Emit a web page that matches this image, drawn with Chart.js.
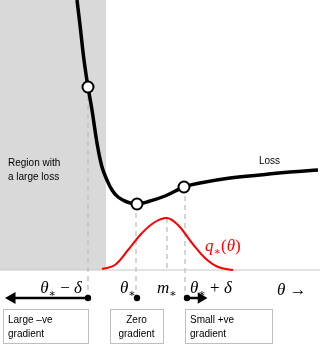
<!DOCTYPE html>
<html>
<head>
<meta charset="UTF-8">
<script src="https://cdn.jsdelivr.net/npm/chart.js@4.4.1/dist/chart.umd.min.js"></script>
<style>
  * { margin: 0; padding: 0; }
  html, body { width: 320px; height: 346px; overflow: hidden; background: #fff; }
  canvas { display: block; }
</style>
</head>
<body>
<canvas id="chart" width="320" height="346"></canvas>
<script>
// theta axis and value axis are in the picture's own units (baseline at value 0)
const lossTheta = [77, 80, 84, 88, 92, 97, 102, 107, 112, 118, 127, 137, 150, 165, 184, 200, 230, 260, 290, 318];
const lossValue = [270, 245, 210, 183, 160, 127, 103, 90, 80, 73, 68, 66, 69, 74, 83, 87, 92, 95, 98, 100];

const qTheta = [102, 115, 128, 142, 155, 167, 178, 192, 205, 218, 233];
const qValue = [1, 5, 20, 37, 48, 52, 45, 27, 12, 3, 0];

// the three marked points: theta* - delta, theta*, theta* + delta
const markTheta = [88, 137, 184];
const markValue = [183, 66, 83];
const mStar = 167;
const qPeak = 52;
const regionEnd = 106;
const thetaMin = 0, thetaMax = 320;
const bulletTheta = [88, 137, 187];
const bulletValue = -28;
const leftArrowEnd = 12;
const rightArrowEnd = 201;

const mathLabels = [
  { theta: 82, v: -18, align: 'right', parts: [['θ', 'i'], ['∗', 's'], [' − ', 'n'], ['δ', 'i']] },
  { theta: 120, v: -18, align: 'left', parts: [['θ', 'i'], ['∗', 's']] },
  { theta: 157, v: -18, align: 'left', parts: [['m', 'i'], ['∗', 's']] },
  { theta: 190, v: -18, align: 'left', parts: [['θ', 'i'], ['∗', 's'], [' + ', 'n'], ['δ', 'i']] },
  { theta: 277, v: -20, align: 'left', parts: [['θ', 'i'], [' →', 'n']] },
  { theta: 205, v: 24, align: 'left', color: '#ff0000', parts: [['q', 'i'], ['∗', 's'], ['(', 'n'], ['θ', 'i'], [')', 'n']] }
];
const boxes = [
  { from: 3, to: 88, lines: ['Large \u2013ve', 'gradient'], align: 'left' },
  { from: 110, to: 163, lines: ['Zero', 'gradient'], align: 'center' },
  { from: 185, to: 272, lines: ['Small +ve', 'gradient'], align: 'left' }
];
const boxTop = -39, boxBottom = -73;
const notes = [
  { theta: 8, v: 107, text: 'Region with' },
  { theta: 8, v: 93, text: 'a large loss' },
  { theta: 259, v: 109, text: 'Loss' }
];

const pts = (xs, ys) => xs.map((x, i) => ({ x, y: ys[i] }));
const vline = (x, y0, y1) => [{ x, y: y0 }, { x, y: y1 }];
const dash = { borderColor: '#bfbfbf', borderWidth: 1.3, borderDash: [5, 4], pointRadius: 0, fill: false };

const annotate = {
  id: 'annotate',
  afterDatasetsDraw(chart) {
    const { ctx, scales: { x, y } } = chart;
    ctx.save();
    ctx.textBaseline = 'alphabetic';
    // math labels
    mathLabels.forEach(lb => {
      const fontFor = k => k === 's' ? '11px "DejaVu Serif"' : (k === 'i' ? 'italic 17px "Liberation Serif"' : '17px "Liberation Serif"');
      let w = 0;
      lb.parts.forEach(p => { ctx.font = fontFor(p[1]); w += ctx.measureText(p[0]).width; });
      let px = x.getPixelForValue(lb.theta);
      if (lb.align === 'right') px -= w;
      const py = y.getPixelForValue(lb.v) + 5;
      ctx.fillStyle = lb.color || '#000';
      lb.parts.forEach(p => {
        ctx.font = fontFor(p[1]);
        ctx.fillText(p[0], px, p[1] === 's' ? py + 4 : py);
        px += ctx.measureText(p[0]).width;
      });
    });
    // plain notes
    ctx.font = '10px "Liberation Sans"';
    ctx.fillStyle = '#000';
    ctx.textBaseline = 'middle';
    notes.forEach(n => ctx.fillText(n.text, x.getPixelForValue(n.theta), y.getPixelForValue(n.v)));
    // boxes
    boxes.forEach(b => {
      const x0 = x.getPixelForValue(b.from), x1 = x.getPixelForValue(b.to);
      const y0 = y.getPixelForValue(boxTop), y1 = y.getPixelForValue(boxBottom);
      ctx.strokeStyle = '#bfbfbf';
      ctx.lineWidth = 1;
      ctx.strokeRect(Math.round(x0) + 0.5, Math.round(y0) + 0.5, x1 - x0, y1 - y0);
      ctx.textAlign = b.align;
      const tx = b.align === 'center' ? (x0 + x1) / 2 : x0 + 5;
      b.lines.forEach((t, i) => ctx.fillText(t, tx, y0 + 11 + i * 14));
    });
    ctx.restore();
  }
};

new Chart(document.getElementById('chart'), {
  type: 'scatter',
  data: {
    datasets: [
      // bullet points under the marks
      { data: bulletTheta.map(t => ({ x: t, y: bulletValue })), pointRadius: 3.2, pointBackgroundColor: '#000', pointBorderWidth: 0, showLine: false },
      // arrow heads
      { data: [{ x: leftArrowEnd, y: bulletValue }], pointStyle: 'triangle', rotation: -90, pointRadius: 7, pointBackgroundColor: '#000', pointBorderWidth: 0, showLine: false },
      { data: [{ x: rightArrowEnd, y: bulletValue }], pointStyle: 'triangle', rotation: 90, pointRadius: 6.5, pointBackgroundColor: '#000', pointBorderWidth: 0, showLine: false },
      // arrow shafts
      { data: [{ x: bulletTheta[0], y: bulletValue }, { x: leftArrowEnd + 3, y: bulletValue }], showLine: true, borderColor: '#000', borderWidth: 2.5, pointRadius: 0 },
      { data: [{ x: bulletTheta[2], y: bulletValue }, { x: rightArrowEnd - 2, y: bulletValue }], showLine: true, borderColor: '#000', borderWidth: 2.5, pointRadius: 0 },
      // marked points on the loss
      { data: pts(markTheta, markValue), pointRadius: 5.5, pointBackgroundColor: '#fff', pointBorderColor: '#000', pointBorderWidth: 2, showLine: false },
      // loss curve
      { data: pts(lossTheta, lossValue), showLine: true, borderColor: '#000', borderWidth: 3.5, pointRadius: 0, tension: 0.4 },
      // q*(theta)
      { data: pts(qTheta, qValue), showLine: true, borderColor: '#ff0000', borderWidth: 2, pointRadius: 0, tension: 0.4 },
      // dashed guides
      { data: vline(markTheta[0], markValue[0], bulletValue), showLine: true, ...dash },
      { data: vline(136, markValue[1], bulletValue), showLine: true, ...dash },
      { data: vline(mStar, qPeak, 0), showLine: true, ...dash },
      { data: vline(185, markValue[2], bulletValue), showLine: true, ...dash },
      // baseline
      { data: [{ x: thetaMin, y: 0 }, { x: thetaMax, y: 0 }], showLine: true, borderColor: '#c8c8c8', borderWidth: 1.2, pointRadius: 0 },
      // large loss region
      { data: [{ x: thetaMin, y: 270 }, { x: regionEnd, y: 270 }], showLine: true, borderWidth: 0, pointRadius: 0, fill: 'origin', backgroundColor: '#d9d9d9' }
    ]
  },
  options: {
    responsive: false,
    animation: false,
    events: [],
    layout: { padding: 0, autoPadding: false },
    plugins: { legend: { display: false }, tooltip: { enabled: false } },
    scales: {
      x: { type: 'linear', min: thetaMin, max: thetaMax, display: false },
      y: { type: 'linear', min: -76, max: 270, display: false }
    }
  },
  plugins: [annotate]
});
</script>
</body>
</html>
